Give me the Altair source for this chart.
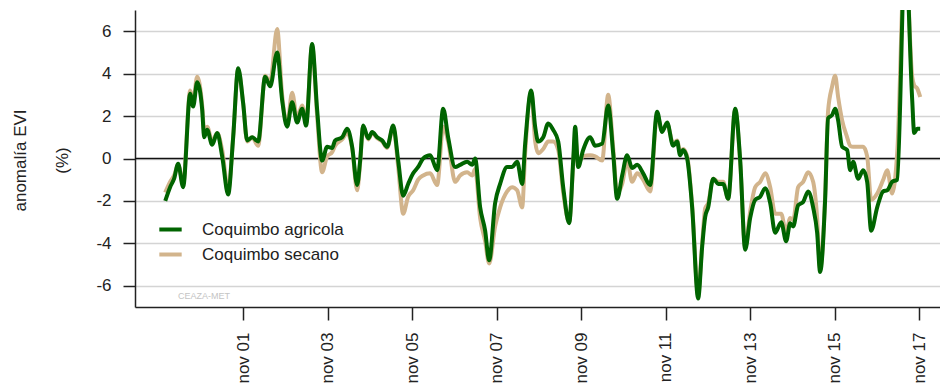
import altair as alt
import pandas as pd

# Smoothed EVI anomaly (%) for the Coquimbo region, agricultural vs. dryland pixels
decimal_year = [
    1999.99, 2000.105, 2000.200, 2000.295, 2000.413, 2000.579, 2000.650, 2000.744,
    2000.863, 2000.910, 2000.981, 2001.099, 2001.218, 2001.336, 2001.478, 2001.596,
    2001.715, 2001.833, 2001.928, 2002.046, 2002.188, 2002.354, 2002.472, 2002.638,
    2002.756, 2002.874, 2002.993, 2003.111, 2003.229, 2003.324, 2003.466, 2003.585,
    2003.703, 2003.821, 2003.940, 2004.011, 2004.176, 2004.295, 2004.413, 2004.531,
    2004.602, 2004.673, 2004.792, 2004.886, 2005.005, 2005.123, 2005.241, 2005.383,
    2005.502, 2005.620, 2005.738, 2005.857, 2005.975, 2006.093, 2006.259, 2006.425,
    2006.567, 2006.685, 2006.851, 2006.969, 2007.135, 2007.253, 2007.324, 2007.443,
    2007.561, 2007.656, 2007.798, 2007.916, 2008.082, 2008.200, 2008.318, 2008.437,
    2008.508, 2008.650, 2008.744, 2008.815, 2008.934, 2009.052, 2009.170, 2009.289,
    2009.407, 2009.549, 2009.644, 2009.691, 2009.762, 2009.880, 2010.046, 2010.164,
    2010.330, 2010.472, 2010.591, 2010.685, 2010.804, 2010.922, 2011.040, 2011.159,
    2011.301, 2011.466, 2011.632, 2011.750, 2011.869, 2012.011, 2012.105, 2012.176,
    2012.247, 2012.342, 2012.460, 2012.602, 2012.697, 2012.768, 2012.839, 2012.957,
    2013.076, 2013.194, 2013.312, 2013.478, 2013.597, 2013.715, 2013.833, 2013.952,
    2014.070, 2014.188, 2014.307, 2014.425, 2014.567, 2014.685, 2014.780, 2014.851,
    2014.969, 2015.088, 2015.206, 2015.324, 2015.419, 2015.490, 2015.608, 2015.679,
    2015.774, 2015.845, 2015.916, 2016.011, 2016.129, 2016.200, 2016.271, 2016.389,
    2016.508, 2016.602, 2016.697, 2016.839, 2016.981, 2017.076, 2017.194, 2017.312,
    2017.502, 2017.668, 2017.715, 2017.786, 2017.857,
]

agricola = [
    -2.0, -1.35, -0.95, -0.25, -1.35, 3.05, 2.45, 3.6,
    2.3, 1.0, 1.35, 0.65, 1.2, 0.1, -1.7, 1.0,
    4.25, 2.6, 0.85, 1.0, 0.8, 3.85, 3.4, 5.0,
    2.75, 1.5, 2.65, 1.7, 2.35, 1.55, 5.4, 2.3,
    -0.1, 0.55, 0.5, 0.85, 1.0, 1.4, 0.55, -1.25,
    -0.1, 1.55, 0.95, 1.25, 1.0, 0.85, 0.55, 1.55,
    -0.1, -1.75, -1.2, -0.7, -0.4, 0.0, 0.15, -0.55,
    2.35, 1.0, -0.4, -0.3, -0.15, -0.3, 0.0, -2.3,
    -3.4, -4.8, -2.1, -1.2, -0.4, -0.4, -0.15, -1.2,
    0.7, 3.2, 1.5, 0.8, 1.0, 1.65, 1.35, 0.8,
    -1.35, -3.05, -0.1, 1.5, -0.4, 0.4, 1.0, 0.6,
    0.7, 2.5, 0.25, -1.9, -0.8, 0.15, -0.45, -0.3,
    -0.7, -1.25, 2.2, 1.25, 1.7, 0.6, 0.8, 0.15,
    0.4, 0.0, -2.3, -6.6, -4.15, -2.75, -2.3, -0.95,
    -1.2, -1.2, -1.9, 2.35, -0.1, -4.3, -2.8, -1.95,
    -1.8, -1.4, -2.1, -3.5, -3.0, -3.9, -3.05, -3.2,
    -2.2, -2.05, -1.55, -2.3, -3.5, -5.35, -1.95, 1.9,
    2.05, 2.35, 1.8, 0.55, 0.4, -0.55, -0.15, -0.95,
    -0.55, -1.1, -3.4, -2.3, -1.55, -1.5, -1.1, -1.0,
    10.0, 2.75, 1.2, 1.4, 1.4,
]

secano = [
    -1.6, -1.1, -0.8, -0.3, -1.2, 3.2, 2.7, 3.85,
    2.5, 1.3, 1.5, 0.8, 1.2, 0.4, -1.5, 1.0,
    4.2, 2.6, 0.8, 1.0, 0.6, 3.9, 3.6, 6.1,
    3.0, 1.6, 3.1, 1.9, 2.5, 1.7, 5.3, 2.0,
    -0.65, 0.1, 0.3, 0.6, 0.9, 1.2, 0.5, -1.5,
    -0.2, 1.5, 0.9, 1.2, 0.95, 0.8, 0.5, 1.5,
    -0.4, -2.6, -1.8, -1.5, -1.0, -0.8, -0.7, -1.25,
    1.5, 0.8, -1.1, -0.8, -0.65, -0.8, -0.5, -2.8,
    -3.9, -4.95, -3.2, -2.3, -1.55, -1.35, -1.5, -2.3,
    0.25, 3.15, 0.8, 0.25, 0.45, 0.8, 0.8, 0.4,
    -1.6, -3.0, -0.3, 1.0, -0.2, 0.1, 0.15, 0.1,
    -0.1, 3.0, 0.5, -1.65, -1.2, -0.1, -1.1, -0.7,
    -1.0, -1.55, 2.05, 1.3, 1.65, 0.7, 0.85, 0.3,
    0.45, 0.1, -2.2, -6.4, -4.0, -2.35, -2.1, -0.95,
    -1.1, -1.1, -1.9, 2.3, -0.2, -4.2, -2.5, -1.35,
    -1.1, -0.7, -1.35, -2.6, -2.6, -3.5, -2.8, -2.9,
    -1.35, -1.1, -0.65, -1.1, -2.8, -5.2, -1.8, 2.25,
    3.4, 3.9, 2.9, 1.8, 1.0, 0.6, 0.55, 0.55,
    0.55, 0.1, -1.95, -1.65, -1.0, -0.55, -1.65, 0.25,
    10.0, 3.85, 3.45, 3.3, 2.9,
]

series_names = ["Coquimbo agricola", "Coquimbo secano"]
series_colors = ["#006400", "#D2B48C"]
y_ticks = [-6, -4, -2, 0, 2, 4, 6]
tick_years = [2001, 2003, 2005, 2007, 2009, 2011, 2013, 2015, 2017]


def to_iso(t):
    year = int(t)
    start = pd.Timestamp(year=year, month=1, day=1)
    end = pd.Timestamp(year=year + 1, month=1, day=1)
    return (start + (end - start) * (t - year)).strftime("%Y-%m-%dT%H:%M:%S")


dates = [to_iso(t) for t in decimal_year]
df = pd.concat([
    pd.DataFrame({"fecha": dates, "anomalia": agricola, "serie": series_names[0]}),
    pd.DataFrame({"fecha": dates, "anomalia": secano, "serie": series_names[1]}),
])

font = "Liberation Sans"

x_enc = alt.X(
    "fecha:T",
    scale=alt.Scale(domain=[alt.DateTime(year=1999, month=4, date=11),
                            alt.DateTime(year=2018, month=4, date=30)]),
    axis=alt.Axis(
        title=None,
        values=[alt.DateTime(year=y, month=11, date=1) for y in tick_years],
        labelExpr="'nov ' + timeFormat(datum.value, '%y')",
        labelAngle=-90,
        labelFontSize=17,
        labelFont=font,
        labelColor="#222222",
        labelPadding=12,
        tickSize=13,
        tickColor="#222222",
        tickWidth=1.5,
        domainColor="#222222",
        domainWidth=1.5,
        grid=False,
    ),
)

y_enc = alt.Y(
    "anomalia:Q",
    scale=alt.Scale(domain=[-7, 7], nice=False, zero=False),
    axis=alt.Axis(
        title=["anomalía EVI", "(%)"],
        titleFont=font,
        titleFontSize=17,
        titleFontWeight="normal",
        titleColor="#222222",
        titleLineHeight=42,
        titleAngle=-90,
        titleBaseline="bottom",
        titleX=-106,
        titleY=150,
        values=y_ticks,
        labelExpr="'' + datum.value",
        labelFontSize=17,
        labelFont=font,
        labelColor="#222222",
        labelPadding=12,
        tickSize=12,
        tickColor="#222222",
        tickWidth=1.5,
        domainColor="#222222",
        domainWidth=1.5,
        grid=True,
        gridColor="#d4d4d4",
        gridWidth=1.5,
    ),
)

color_enc = alt.Color(
    "serie:N",
    scale=alt.Scale(domain=series_names, range=series_colors),
    legend=alt.Legend(
        title=None,
        orient="none",
        legendX=22,
        legendY=206,
        symbolType="stroke",
        symbolSize=500,
        symbolStrokeWidth=4,
        labelFont=font,
        labelFontSize=17,
        labelColor="#222222",
        labelOffset=18,
        rowPadding=3,
        padding=0,
    ),
)

base = alt.Chart(df).encode(x=x_enc, y=y_enc, color=color_enc)

secano_line = base.transform_filter(
    alt.datum.serie == series_names[1]
).mark_line(strokeWidth=4, clip=True, strokeJoin="round", interpolate="monotone")

agricola_line = base.transform_filter(
    alt.datum.serie == series_names[0]
).mark_line(strokeWidth=4, clip=True, strokeJoin="round", interpolate="monotone")

zero_rule = alt.Chart(pd.DataFrame({"cero": [0]})).mark_rule(
    color="#111111", strokeWidth=1.5
).encode(y=alt.Y("cero:Q"))

watermark = alt.Chart(pd.DataFrame({"t": ["CEAZA-MET"]})).mark_text(
    font=font, fontSize=9, color="#c4c4c4", align="left", baseline="middle"
).encode(text="t:N", x=alt.value(43), y=alt.value(286))

chart = alt.layer(zero_rule, secano_line, agricola_line, watermark).properties(
    width=805,
    height=297,
    autosize=alt.AutoSizeParams(type="none"),
    padding={"left": 135, "top": 10, "right": 0, "bottom": 80},
).configure_view(stroke=None)

chart.save("out.html", embed_options={"renderer": "svg", "actions": False})
